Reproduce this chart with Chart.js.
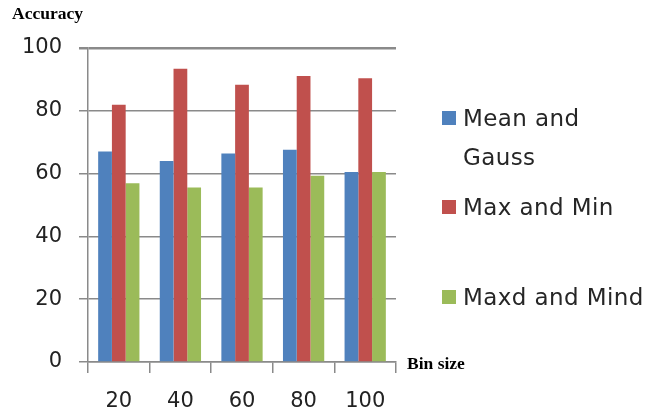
<!DOCTYPE html>
<html>
<head>
<meta charset="utf-8">
<script src="https://cdn.jsdelivr.net/npm/chart.js@4/dist/chart.umd.min.js"></script>
<style>
  body { margin: 0; background: #fff; }
  #wrap { position: relative; width: 646px; height: 414px; }
  canvas { display: block; }
  .axis-title { position: absolute; font-family: "Liberation Serif", serif; font-weight: bold; font-size: 17.5px; color: #000; white-space: nowrap; }
  .legend { position: absolute; left: 442px; top: 0; font-family: "DejaVu Sans", sans-serif; font-size: 23px; letter-spacing: 0.4px; color: #262626; }
  .legend .row { position: absolute; left: 0; white-space: nowrap; }
  .legend .box { position: absolute; left: 0; width: 14px; height: 14px; }
  .legend .txt { position: absolute; left: 21px; line-height: 39px; }
</style>
</head>
<body>
<div id="wrap">
  <canvas id="chart" width="646" height="414"></canvas>
  <div class="axis-title" style="left:12px; top:3px;">Accuracy</div>
  <div class="axis-title" style="left:407px; top:353px;">Bin size</div>
  <div class="legend" id="legend"></div>
</div>
<script>
// values
const binSizes = ['20', '40', '60', '80', '100'];
const meanGauss = [67.0, 64.0, 66.4, 67.6, 60.5];
const maxMin = [81.9, 93.4, 88.3, 91.1, 90.4];
const maxdMind = [56.9, 55.6, 55.6, 59.3, 60.5];
const yTicks = [0, 20, 40, 60, 80, 100];

const seriesNames = [['Mean and', 'Gauss'], ['Max and Min'], ['Maxd and Mind']];
const seriesColors = ['#4F81BD', '#C0504D', '#9BBB59'];
const seriesValues = [meanGauss, maxMin, maxdMind];

const gridGray = '#8a8a8a';

const ctx = document.getElementById('chart').getContext('2d');
const chart = new Chart(ctx, {
    type: 'bar',
    data: {
        labels: binSizes,
        datasets: seriesValues.map((vals, i) => ({
            label: seriesNames[i].join(' '),
            data: vals,
            backgroundColor: seriesColors[i],
            borderWidth: 0,
            categoryPercentage: 0.67,
            barPercentage: 1.0,
        })),
    },
    options: {
        responsive: false,
        animation: false,
        layout: { padding: { top: 48, right: 250, left: 0, bottom: 0 } },
        plugins: { legend: { display: false }, tooltip: { enabled: false } },
        scales: {
            x: {
                grid: { offset: true, drawOnChartArea: false, drawTicks: true, tickLength: 11, color: gridGray, lineWidth: 1.5 },
                border: { display: true, color: gridGray, width: 1.5 },
                ticks: { color: '#222', padding: 16, font: { family: 'DejaVu Sans', size: 21 } },
                afterFit: scale => { scale.height = 52; },
            },
            y: {
                min: 0,
                max: 100,
                afterBuildTicks: scale => { scale.ticks = yTicks.map(v => ({ value: v })); },
                grid: {
                    color: gridGray,
                    lineWidth: c => (c.tick && c.tick.value === 100 ? 2.5 : 1.5),
                    tickLength: 9,
                },
                border: { display: true, color: gridGray, width: 1.5 },
                ticks: { color: '#222', padding: 17, font: { family: 'DejaVu Sans', size: 21 } },
                afterFit: scale => { scale.width = 88; },
            },
        },
    },
});

// legend rows, placed at the picture's row heights
const legendRows = [118, 207, 297];
const legend = document.getElementById('legend');
seriesNames.forEach((lines, i) => {
    const row = document.createElement('div');
    row.className = 'row';
    row.style.top = legendRows[i] + 'px';
    const box = document.createElement('div');
    box.className = 'box';
    box.style.top = '-7px';
    box.style.background = seriesColors[i];
    row.appendChild(box);
    lines.forEach((line, j) => {
        const t = document.createElement('div');
        t.className = 'txt';
        t.style.top = (-19.5 + j * 39) + 'px';
        t.textContent = line;
        row.appendChild(t);
    });
    legend.appendChild(row);
});
</script>
</body>
</html>
